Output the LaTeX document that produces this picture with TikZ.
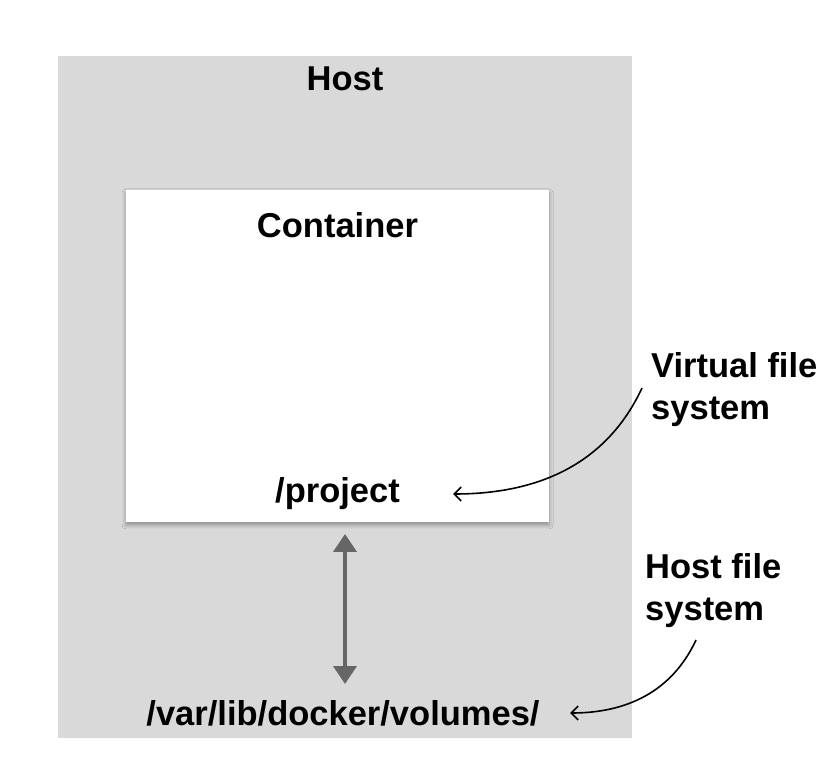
\documentclass[tikz,border=0pt]{standalone}
\usepackage{fontspec}
\setmainfont{Liberation Sans}
\usepackage{tikz}
\usetikzlibrary{arrows.meta,shadows.blur,positioning}
\definecolor{hostgray}{HTML}{D9D9D9}
\definecolor{linkgray}{HTML}{666666}
\tikzstyle{hostbox}=[rectangle, fill=hostgray, minimum width=574pt, minimum height=682pt, inner sep=0pt]
\tikzstyle{contbox}=[rectangle, fill=white, minimum width=423pt, minimum height=332pt, inner sep=0pt,
        blur shadow={shadow xshift=0pt, shadow yshift=-3pt, shadow blur radius=4pt, shadow opacity=35}]
\tikzstyle{title}=[font=\fontsize{34.5}{40}\selectfont\bfseries, anchor=base, inner sep=0pt]
\tikzstyle{note}=[font=\fontsize{34.5}{42}\selectfont\bfseries, align=left, anchor=base west, inner sep=0pt]
\tikzstyle{pointer}=[-{Straight Barb[length=7pt,width=14pt]}, line width=1.6pt, black]

\begin{document}
\begin{tikzpicture}[x=1pt, y=1pt]
\useasboundingbox (0,0) rectangle (824,774);
\node [hostbox] (host) at (345,377) {};
\node [contbox] (cont) at (337.5,418) {};
\node [title] (hostname) at (345,683) {Host};
\node [title] (contname) at (337.5,536) {Container};
\node [title] (project) at (337.5,271) {/project};
\node [title] (volumes) at (343,49) {/var/lib/docker/volumes/};
\node [note] (vfs) at (651,354) {Virtual file\\system};
\node [note] (hfs) at (645,154) {Host file\\system};

\coordinate (vfsfoot) at (642,386);
\coordinate (hfsfoot) at (696,134);
\coordinate (projin) at (453,280);
\coordinate (volin) at (570,61);
\coordinate (linktop) at (345,240);
\coordinate (linkbot) at (345,90);

\draw [{Triangle[length=18pt,width=23pt]}-{Triangle[length=18pt,width=23pt]}, line width=4pt, linkgray] (linktop) -- (linkbot);
\draw [pointer] (vfsfoot) to[out=-115, in=0] (projin);
\draw [pointer] (hfsfoot) to[out=-115, in=0] (volin);

\end{tikzpicture}
\end{document}
